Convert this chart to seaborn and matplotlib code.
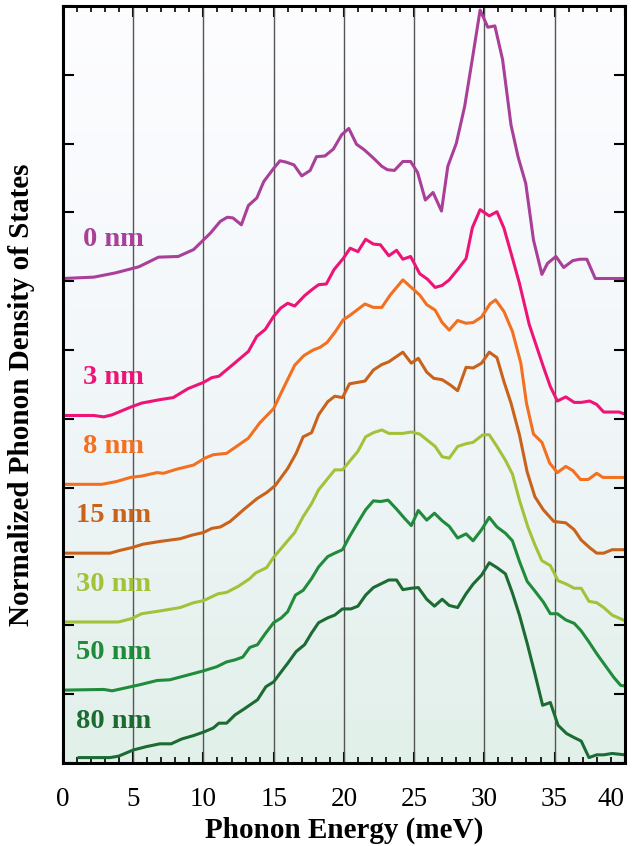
import numpy as np
import pandas as pd
import seaborn as sns
import matplotlib
matplotlib.use("Agg")
import matplotlib.pyplot as plt
from matplotlib.colors import LinearSegmentedColormap
from matplotlib.ticker import MultipleLocator

# film thickness labels, vertical offsets and colours
samples = ["0 nm", "3 nm", "8 nm", "15 nm", "30 nm", "50 nm", "80 nm"]
offsets = [7, 5, 4, 3, 2, 1, 0]
colors = ["#A93F98", "#EE1477", "#F2701F", "#C9621A", "#A2C23A", "#1F8B3B", "#1B6B33"]

# phonon DOS (energy in meV, DOS without offset)
e_0nm = [0, 2.2, 3.7, 5.4, 6.8, 8.2, 9.3, 10.5, 11.2, 11.7, 12.1, 12.7, 13.2, 13.8, 14.3,
         15.0, 15.45, 15.9, 16.45, 17.0, 17.6, 18.05, 18.65, 19.25, 19.85, 20.35, 20.9,
         21.45, 22.1, 22.7, 23.1, 23.6, 24.2, 24.75, 25.25, 25.8, 26.35, 26.95, 27.4, 28.0,
         28.6, 29.1, 29.7, 30.25, 30.75, 31.3, 31.9, 32.4, 32.95, 33.5, 34.1, 34.5, 35.1,
         35.65, 36.3, 36.8, 37.3, 37.9, 40]
d_0nm = [0.04, 0.06, 0.12, 0.21, 0.35, 0.36, 0.46, 0.70, 0.87, 0.93, 0.92, 0.82, 1.10, 1.21,
         1.45, 1.64, 1.75, 1.73, 1.69, 1.53, 1.61, 1.81, 1.82, 1.92, 2.13, 2.22, 1.99, 1.91,
         1.79, 1.67, 1.62, 1.61, 1.74, 1.74, 1.58, 1.18, 1.29, 1.02, 1.67, 2.00, 2.54, 3.17,
         3.94, 3.69, 3.71, 3.22, 2.27, 1.81, 1.42, 0.60, 0.10, 0.26, 0.36, 0.20, 0.30, 0.32,
         0.32, 0.04, 0.04]

e_3nm = [0, 2.2, 2.9, 3.5, 4.8, 5.6, 6.9, 7.85, 8.9, 10.0, 10.6, 11.1, 12.1, 13.2, 13.8,
         14.4, 15.0, 15.5, 16.0, 16.5, 17.2, 17.8, 18.2, 18.75, 19.3, 19.95, 20.45, 21.0,
         21.55, 22.1, 22.6, 23.2, 23.75, 24.2, 24.75, 25.4, 25.95, 26.5, 27.0, 27.5, 28.1,
         28.7, 29.15, 29.7, 30.35, 30.9, 31.4, 31.9, 32.5, 33.2, 34.2, 34.7, 35.2, 35.8,
         36.4, 36.9, 37.5, 38.0, 38.5, 39.6, 40]
d_3nm = [0.05, 0.05, 0.03, 0.06, 0.17, 0.23, 0.28, 0.31, 0.44, 0.53, 0.60, 0.62, 0.79, 0.98,
         1.20, 1.30, 1.49, 1.61, 1.68, 1.64, 1.79, 1.89, 1.95, 1.96, 2.17, 2.33, 2.48, 2.43,
         2.61, 2.54, 2.53, 2.37, 2.45, 2.32, 2.36, 2.11, 2.03, 1.91, 1.94, 2.02, 2.17, 2.33,
         2.78, 3.04, 2.95, 3.01, 2.77, 2.41, 1.97, 1.37, 0.76, 0.47, 0.26, 0.32, 0.24, 0.24,
         0.26, 0.21, 0.10, 0.10, 0.07]

e_8nm = [0, 2.75, 3.8, 4.8, 5.6, 6.7, 7.15, 8.1, 9.3, 10.1, 10.7, 11.65, 12.35, 13.2, 14.0,
         15.0, 15.75, 16.5, 17.15, 17.8, 18.3, 18.8, 19.4, 19.95, 20.4, 21.5, 22.1, 22.7,
         23.3, 24.2, 24.8, 25.4, 25.9, 26.5, 27.0, 27.5, 28.1, 28.7, 29.2, 29.8, 30.4, 30.8,
         31.4, 32.0, 32.6, 33.0, 33.5, 34.1, 34.65, 35.2, 35.8, 36.3, 36.85, 37.4, 38.0,
         38.45, 40]
d_8nm = [0.05, 0.05, 0.09, 0.15, 0.17, 0.22, 0.21, 0.27, 0.33, 0.43, 0.48, 0.50, 0.60, 0.72,
         0.94, 1.15, 1.47, 1.78, 1.92, 2.00, 2.04, 2.11, 2.27, 2.44, 2.50, 2.67, 2.62, 2.62,
         2.80, 3.02, 2.91, 2.80, 2.66, 2.58, 2.40, 2.29, 2.43, 2.39, 2.40, 2.48, 2.67, 2.73,
         2.56, 2.27, 1.81, 1.23, 0.78, 0.66, 0.36, 0.22, 0.31, 0.25, 0.12, 0.12, 0.21, 0.15,
         0.15]

e_15nm = [0, 3.35, 4.05, 4.9, 5.7, 6.9, 8.35, 9.15, 10.0, 10.6, 11.2, 11.9, 12.85, 13.8,
          14.5, 15.1, 16.0, 16.6, 17.1, 17.7, 18.2, 18.85, 19.35, 19.9, 20.4, 21.5, 22.1,
          22.7, 23.2, 24.2, 24.8, 25.3, 25.9, 26.4, 27.0, 27.6, 28.1, 28.7, 29.2, 29.8, 30.35,
          30.9, 31.4, 31.9, 32.5, 33.05, 33.6, 34.2, 34.95, 35.8, 36.4, 36.9, 37.5, 38.0,
          38.5, 39.1, 40]
d_15nm = [0.05, 0.05, 0.09, 0.13, 0.18, 0.22, 0.26, 0.31, 0.35, 0.41, 0.43, 0.51, 0.68, 0.84,
          0.93, 1.03, 1.28, 1.50, 1.74, 1.80, 2.06, 2.25, 2.33, 2.31, 2.51, 2.55, 2.71, 2.79,
          2.83, 2.97, 2.81, 2.88, 2.68, 2.59, 2.57, 2.49, 2.41, 2.75, 2.74, 2.81, 2.97, 2.89,
          2.54, 2.23, 1.77, 1.23, 0.87, 0.68, 0.51, 0.49, 0.39, 0.24, 0.13, 0.05, 0.05, 0.10,
          0.10]

e_30nm = [0, 3.95, 4.9, 5.6, 6.9, 8.35, 9.3, 10.0, 11.05, 11.65, 12.5, 13.3, 13.7, 14.5,
          15.0, 16.5, 17.1, 17.7, 18.2, 19.35, 19.9, 21.0, 21.55, 22.1, 22.7, 23.2, 24.2,
          24.8, 25.4, 26.5, 27.0, 27.5, 28.1, 28.7, 29.2, 29.9, 30.35, 30.9, 31.5, 32.0, 32.5,
          33.1, 33.6, 34.1, 34.7, 35.25, 35.85, 36.4, 36.9, 37.45, 38.0, 38.5, 39.1, 40]
d_30nm = [0.05, 0.05, 0.10, 0.17, 0.21, 0.26, 0.33, 0.36, 0.46, 0.48, 0.57, 0.68, 0.76, 0.84,
          0.99, 1.35, 1.58, 1.77, 1.97, 2.26, 2.26, 2.53, 2.74, 2.80, 2.84, 2.79, 2.79, 2.81,
          2.78, 2.60, 2.45, 2.43, 2.60, 2.64, 2.66, 2.77, 2.77, 2.60, 2.40, 2.20, 1.82, 1.43,
          1.17, 0.94, 0.87, 0.65, 0.60, 0.54, 0.54, 0.35, 0.33, 0.26, 0.15, 0.07]

e_50nm = [0, 2.9, 3.5, 4.4, 5.5, 6.7, 7.6, 8.9, 10.0, 10.95, 11.65, 12.25, 12.8, 13.3, 13.85,
          14.4, 15.0, 15.55, 16.0, 16.55, 17.1, 17.7, 18.2, 18.85, 19.35, 19.9, 20.4, 20.95,
          21.55, 22.1, 22.6, 23.15, 23.75, 24.3, 24.8, 25.3, 25.9, 26.45, 27.0, 27.5, 28.1,
          28.7, 29.2, 29.8, 30.35, 30.9, 31.5, 32.0, 32.5, 33.05, 33.6, 34.2, 34.7, 35.2,
          35.8, 36.4, 36.9, 37.45, 38.0, 38.6, 39.2, 39.7, 40]
d_50nm = [0.06, 0.07, 0.05, 0.09, 0.14, 0.20, 0.21, 0.28, 0.34, 0.40, 0.47, 0.50, 0.54, 0.68,
          0.72, 0.88, 1.04, 1.11, 1.20, 1.44, 1.51, 1.68, 1.85, 2.00, 2.05, 2.10, 2.29, 2.48,
          2.68, 2.81, 2.80, 2.82, 2.69, 2.56, 2.45, 2.67, 2.53, 2.63, 2.52, 2.44, 2.27, 2.33,
          2.23, 2.39, 2.57, 2.43, 2.34, 2.23, 1.93, 1.64, 1.50, 1.34, 1.17, 1.17, 1.08, 1.03,
          0.92, 0.76, 0.59, 0.42, 0.25, 0.13, 0.12]

e_80nm = [1.1, 3.35, 3.95, 5.0, 5.95, 6.9, 7.7, 8.45, 9.3, 10.0, 10.7, 11.1, 11.65, 12.25,
          12.85, 13.85, 14.45, 15.0, 15.55, 16.0, 16.6, 17.2, 17.7, 18.2, 18.85, 19.35, 19.9,
          20.5, 21.0, 21.55, 22.1, 22.7, 23.2, 23.75, 24.2, 24.8, 25.3, 25.9, 26.45, 27.0,
          27.5, 28.1, 28.7, 29.2, 29.8, 30.35, 30.9, 31.5, 32.0, 32.5, 33.05, 33.6, 34.15,
          34.7, 35.25, 35.85, 36.4, 36.9, 37.45, 38.0, 38.5, 39.1, 40]
d_80nm = [0.08, 0.08, 0.10, 0.19, 0.24, 0.28, 0.28, 0.35, 0.40, 0.45, 0.51, 0.58, 0.58, 0.70,
          0.78, 0.92, 1.11, 1.18, 1.33, 1.45, 1.62, 1.72, 1.89, 2.04, 2.11, 2.15, 2.24, 2.24,
          2.28, 2.44, 2.55, 2.61, 2.66, 2.66, 2.52, 2.54, 2.55, 2.38, 2.28, 2.38, 2.29, 2.26,
          2.46, 2.60, 2.73, 2.91, 2.84, 2.75, 2.47, 2.15, 1.74, 1.30, 0.84, 0.88, 0.55, 0.43,
          0.37, 0.32, 0.08, 0.12, 0.12, 0.14, 0.12]

energies = [e_0nm, e_3nm, e_8nm, e_15nm, e_30nm, e_50nm, e_80nm]
dos = [d_0nm, d_3nm, d_8nm, d_15nm, d_30nm, d_50nm, d_80nm]

# long table, each curve shifted up by its offset
frames = []
for name, off, e, d in zip(samples, offsets, energies, dos):
    frames.append(pd.DataFrame({"energy": e, "dos": np.array(d) + off, "sample": name}))
df = pd.concat(frames, ignore_index=True)

sns.set_style("ticks")
plt.rcParams["font.family"] = ["Liberation Serif", "DejaVu Serif"]
plt.rcParams.update({"text.color": "black", "axes.labelcolor": "black",
                     "xtick.color": "black", "ytick.color": "black",
                     "axes.edgecolor": "black"})

fig = plt.figure(figsize=(6.33, 8.46), dpi=100)
ax = fig.add_axes([0.0995, 0.098, 0.8875, 0.895])

# soft gradient background (light green at bottom to near white at top)
bg = LinearSegmentedColormap.from_list("bg", ["#e1f0e9", "#edf4f5", "#f6f9fc", "#fdfdff"])
ax.imshow(np.linspace(0, 1, 256).reshape(-1, 1), extent=[0, 40, 0, 11], origin="lower",
          aspect="auto", cmap=bg, zorder=0)

for e in range(5, 40, 5):
    ax.axvline(e, color="#555555", lw=1.0, zorder=1)

sns.lineplot(data=df, x="energy", y="dos", hue="sample", hue_order=samples,
             palette=colors, estimator=None, sort=False, lw=2.2, legend=False,
             ax=ax, zorder=3)

for name, off, c in zip(samples, offsets, colors):
    ax.text(3.6, off + 0.6, name, color=c, fontsize=20.5, fontweight="bold",
            ha="center", va="center", zorder=4)

ax.set_xlim(0, 40)
ax.set_ylim(0, 11)
ax.set_xticks(range(0, 41, 5))
ax.xaxis.set_minor_locator(MultipleLocator(1))
ax.set_yticks(range(0, 12))
ax.set_yticklabels([])
ax.tick_params(which="both", direction="in", top=True, right=True, width=1.5,
               labelsize=19.5, pad=17)
ax.tick_params(which="major", length=8)
ax.tick_params(which="minor", length=4, width=1.2)
ax.get_xticklabels()[-1].set_ha("right")
for s in ax.spines.values():
    s.set_linewidth(2.2)
    s.set_zorder(5)

ax.set_xlabel("Phonon Energy (meV)", fontsize=21, fontweight="bold")
ax.set_ylabel("Normalized Phonon Density of States", fontsize=21, fontweight="bold")
ax.xaxis.set_label_coords(0.5, -0.071)
ax.yaxis.set_label_coords(-0.05, 0.487)

fig.savefig("out.png", dpi=100)
